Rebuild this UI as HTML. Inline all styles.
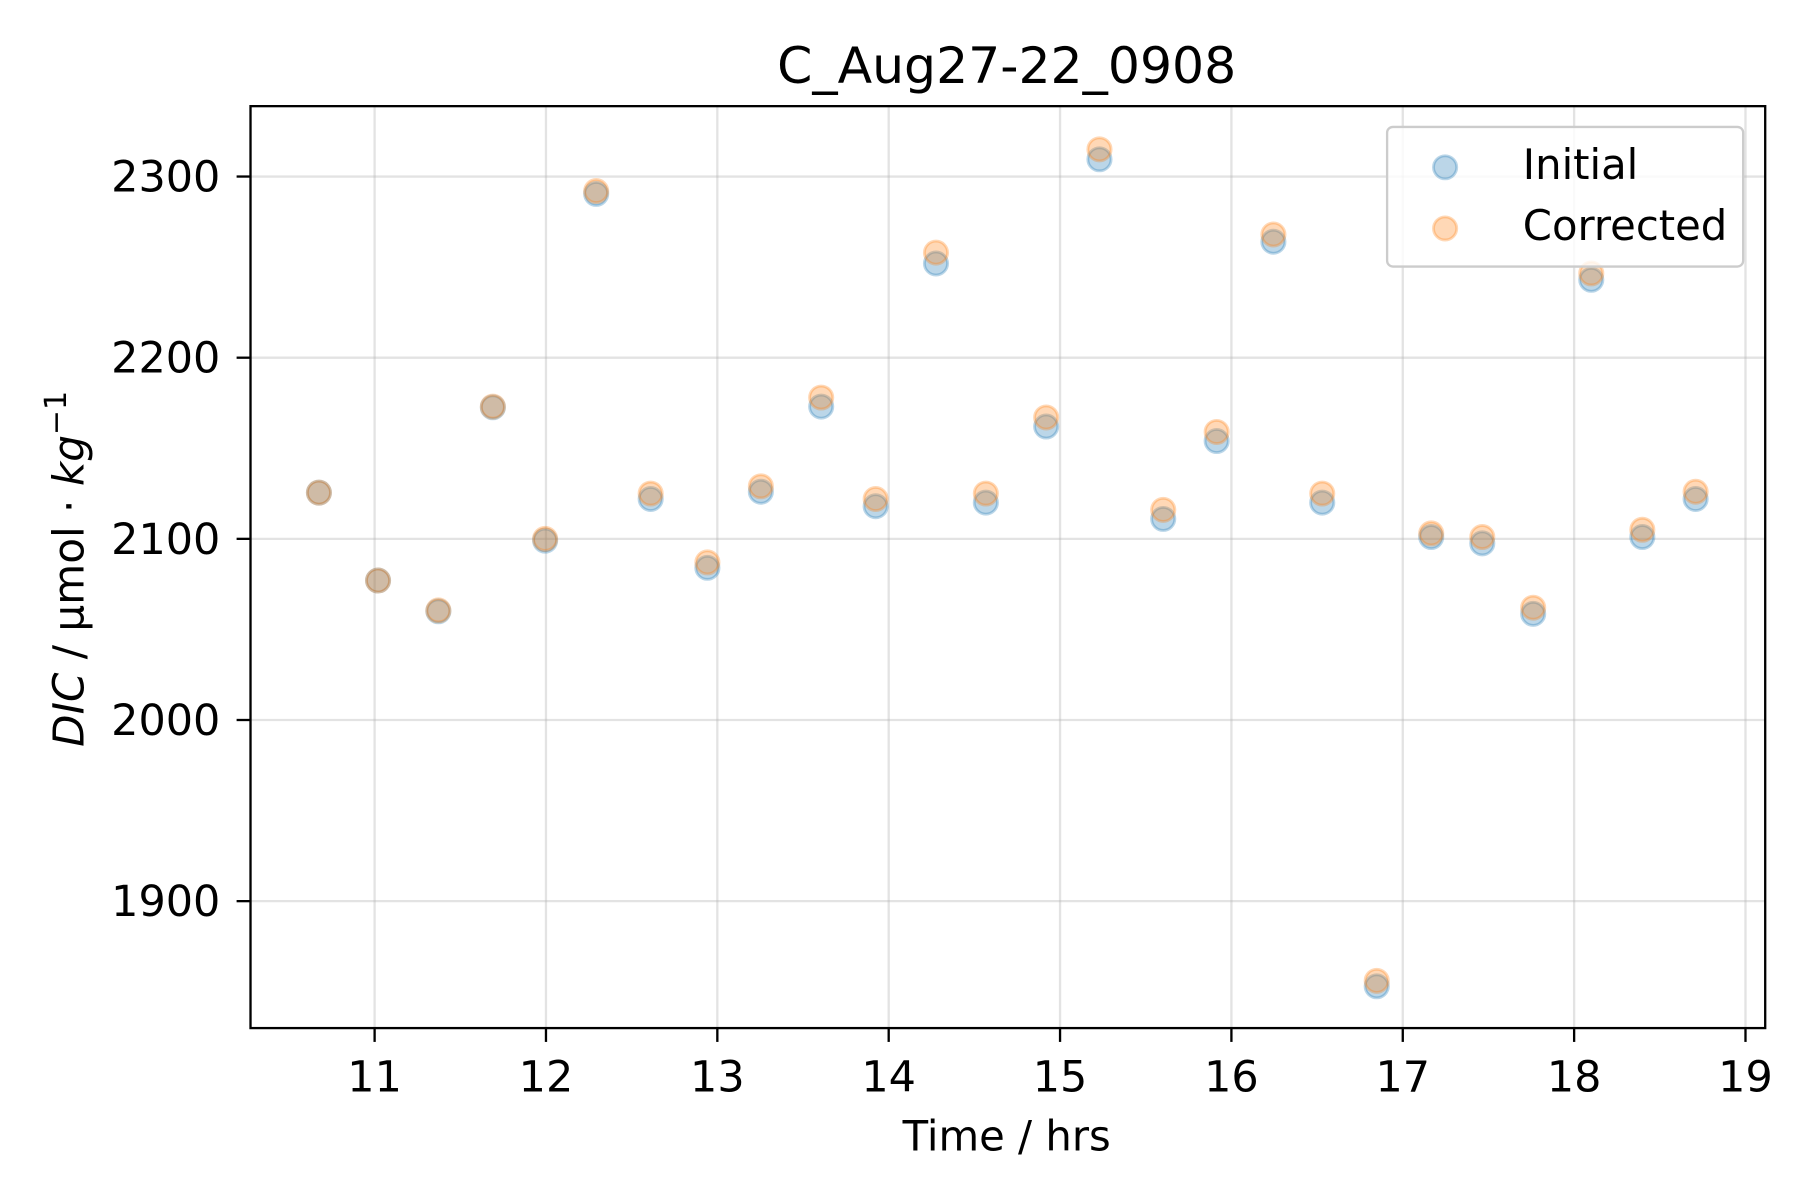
<!DOCTYPE html>
<html><head><meta charset="utf-8"><style>
html,body{margin:0;padding:0;background:#fff;}
svg{display:block;}
text{font-family:"DejaVu Sans","Liberation Sans",sans-serif;fill:#000;}
</style></head><body>
<svg id="chart" width="1800" height="1200" viewBox="0 0 1552 1040" preserveAspectRatio="none" xmlns="http://www.w3.org/2000/svg">
<rect width="1552" height="1040" fill="#fff"/>
<g id="grid"></g>
<g id="points"></g>
<rect x="216" y="92" width="1306" height="799" fill="none" stroke="#000" stroke-width="2"/>
<g id="ticks"></g>
<text x="868" y="72" font-size="43.5" text-anchor="middle">C_Aug27-22_0908</text>
<text x="868" y="997" font-size="36" text-anchor="middle">Time / hrs</text>
<text transform="translate(72,493) rotate(-90)" font-size="36.5" text-anchor="middle"><tspan font-style="italic">DIC</tspan> / μmol · <tspan font-style="italic">kg</tspan><tspan font-size="26" dy="-15">−1</tspan></text>
<g>
<rect x="1196" y="110" width="307" height="121" rx="5" fill="#fff" fill-opacity="0.8" stroke="#ccc" stroke-width="2"/>
<circle cx="1246" cy="145" r="10" fill="#1f77b4" fill-opacity="0.3" stroke="#1f77b4" stroke-opacity="0.3" stroke-width="2.5"/>
<text x="1313" y="155" font-size="36">Initial</text>
<circle cx="1246" cy="198" r="10" fill="#ff7f0e" fill-opacity="0.3" stroke="#ff7f0e" stroke-opacity="0.3" stroke-width="2.5"/>
<text x="1313" y="208" font-size="36">Corrected</text>
</g>
</svg>
<script>
const times = [10.675,11.02,11.372,11.69,11.995,12.293,12.611,12.942,13.254,13.606,13.924,14.276,14.567,14.919,15.23,15.602,15.914,16.245,16.53,16.848,17.166,17.464,17.761,18.1,18.398,18.709];
const initial = [2125.5,2077,2060,2172.6,2099,2290.4,2122,2084,2126,2173,2118,2252,2120,2162,2309.5,2111,2154,2264,2120,1853,2101,2097.5,2058.6,2243,2101,2122];
const corrected = [2125.5,2077,2060.5,2173,2100,2292,2125,2087,2129,2178,2122,2258,2125,2167,2315,2116,2159,2268,2125,1856,2103,2101,2062,2246.5,2105,2126];
const xTicks = [11,12,13,14,15,16,17,18,19];
const yTicks = [1900,2000,2100,2200,2300];

const NS = "http://www.w3.org/2000/svg";
function xs(v){ return 323 + (v - 11) * 147.75; }
function ys(v){ return 153 + (2300 - v) * 1.57; }
function mk(tag, attrs, parent){
  const e = document.createElementNS(NS, tag);
  for (const k in attrs) e.setAttribute(k, attrs[k]);
  parent.appendChild(e);
  return e;
}
const grid = document.getElementById('grid');
const ticks = document.getElementById('ticks');
xTicks.forEach(t => {
  const x = xs(t);
  const g = mk('line', {x1:x, x2:x, y1:92, y2:891, stroke:'#b0b0b0', 'stroke-opacity':0.35, 'stroke-width':2}, grid);
  
  
  const tk = mk('line', {x1:x, x2:x, y1:891, y2:903, stroke:'#000', 'stroke-width':2}, ticks);
  
  
  const lb = mk('text', {x:x, y:946, 'font-size':37, 'text-anchor':'middle'}, ticks);
  lb.textContent = t;
  
  
});
yTicks.forEach(t => {
  const y = ys(t);
  const g = mk('line', {x1:216, x2:1522, y1:y, y2:y, stroke:'#b0b0b0', 'stroke-opacity':0.35, 'stroke-width':2}, grid);
  
  
  const tk = mk('line', {x1:204, x2:216, y1:y, y2:y, stroke:'#000', 'stroke-width':2}, ticks);
  
  
  const lb = mk('text', {x:190, y:y+13, 'font-size':37, 'text-anchor':'end'}, ticks);
  lb.textContent = t;
  
  
});
const pts = document.getElementById('points');
times.forEach((t, i) => {
  const c = mk('circle', {cx:xs(t), cy:ys(initial[i]), r:10, fill:'#1f77b4', 'fill-opacity':0.3, stroke:'#1f77b4', 'stroke-opacity':0.3, 'stroke-width':2.5}, pts);
  
  
});
times.forEach((t, i) => {
  const c = mk('circle', {cx:xs(t), cy:ys(corrected[i]), r:10, fill:'#ff7f0e', 'fill-opacity':0.3, stroke:'#ff7f0e', 'stroke-opacity':0.3, 'stroke-width':2.5}, pts);
  
  
});
</script>
</body></html>
